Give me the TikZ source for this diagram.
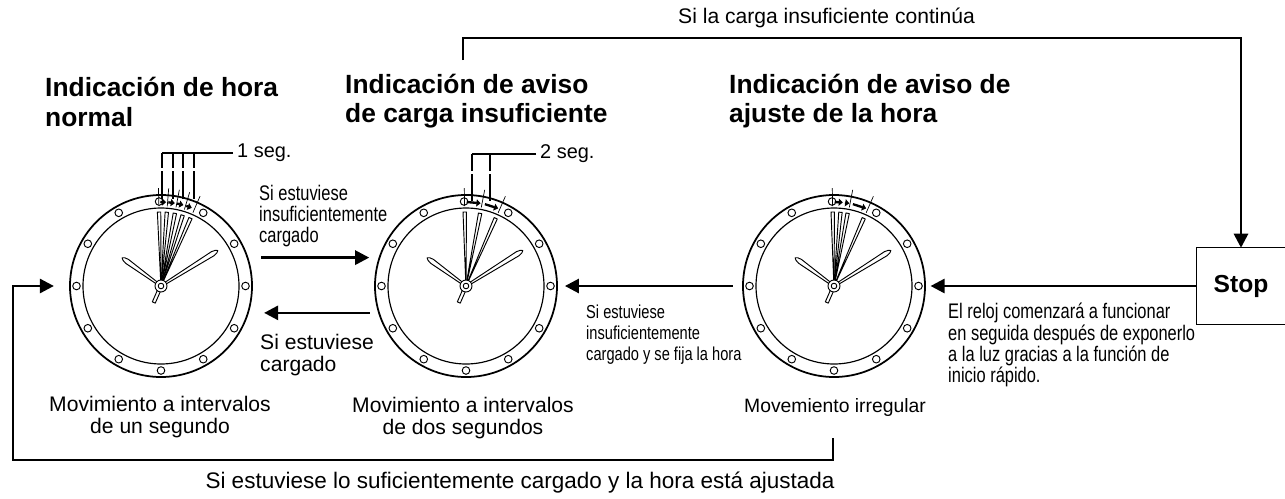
\documentclass[tikz,border=0pt]{standalone}
\usepackage{fontspec}
\setmainfont{Liberation Sans}
\newfontfamily\narrowfont[FakeStretch=0.78]{Liberation Sans}
\usetikzlibrary{arrows.meta}
\tikzset{
    clockring/.style={circle, draw, line width=1.5pt, minimum size=5.46cm, inner sep=0pt},
    innerring/.style={line width=1pt},
    ringdot/.style={line width=0.8pt, fill=white},
    handline/.style={line width=0.8pt, fill=white, line join=round},
    tickline/.style={line width=0.6pt},
    tickarrow/.style={line width=2pt, -{Triangle[length=3.5pt, width=6pt]}},
    bracket/.style={line width=1.2pt},
    flow/.style={line width=2.3pt, -{Triangle[length=12pt, width=12pt]}},
    heading/.style={font=\fontsize{22.5}{25}\selectfont\bfseries, align=left, anchor=west, inner sep=0pt},
    plainlabel/.style={font=\fontsize{18}{18.5}\selectfont, inner sep=0pt},
    seglabel/.style={font=\fontsize{17}{18}\selectfont, anchor=west, inner sep=0pt},
    narrowlabel/.style={font=\fontsize{18}{18}\narrowfont, align=left, anchor=west, inner sep=0pt}
}
\newcommand{\clockface}[4]{
    \begin{scope}[shift={(#1.center)}]
        \draw[innerring] (0,0) circle (78);
        \foreach \h in {-1.3,30,60,90,120,150,180,210,240,270,300,330}
            \draw[ringdot] (\h-90:84.5) circle (3.8);
        \draw[handline, rotate=54] (-1,-5) -- (-2.4,-42) -- (-1.5,-46) -- (0,-48) -- (1.5,-46) -- (2.4,-42) -- (1,-5) -- cycle;
        \draw[handline, rotate=-58] (-1,-5) -- (-2.4,-61) -- (-1.5,-65) -- (0,-67) -- (1.5,-65) -- (2.4,-61) -- (1,-5) -- cycle;
        \foreach \a in {#2}
            \draw[handline, rotate=-\a] (-0.2,-5) -- (-1.7,-74) -- (1.7,-74) -- (0.2,-5) -- cycle;
        \foreach \a in {#3}
            \draw[tickline] (\a-90:80) -- (\a-90:98);
        \foreach \s/\e in {#4}
            \draw[tickarrow] (\s-90:84) -- (\e-90:84);
        \draw[handline, rotate=-23.6] (-1.6,0) rectangle (1.6,18);
        \draw[handline] (0,0) circle (6);
        \draw[handline] (0,0) circle (2.8);
    \end{scope}
}

\begin{document}
\begin{tikzpicture}[x=0.03cm, y=-0.03cm]
        \useasboundingbox (0,0) rectangle (1285,498);

        \node[clockring] (normalclock) at (161,286) {};
        \node[clockring] (chargeclock) at (466,286) {};
        \node[clockring] (adjustclock) at (834,286) {};

        \clockface{normalclock}{-1.5,4.5,10.8,17,23.5}{-1.5,4.5,10.8,17,23.5}{-0.5/3.5,5/9.5,11/15.5,17.5/21.5}
        \clockface{chargeclock}{-1,11,23.7}{-1,11,23.7}{0.5/10,13/22.5}
        \clockface{adjustclock}{-1,5,10.6,23.7}{-1,11,23.7}{0.5/6,7.5/10.5,13/22.5}

        \node[inner sep=0pt, font=\fontsize{21}{24}\selectfont\bfseries, minimum width=88*0.03cm, minimum height=76*0.03cm] (stopbox) at (1241,286) {Stop};
        \draw[line width=0.9pt] (stopbox.north east) -- (stopbox.north west) -- (stopbox.south west) -- (stopbox.south east);

        \node[heading] (normaltitle) at (45,102) {Indicación de hora\\normal};
        \node[heading] (chargetitle) at (345,101) {Indicación de aviso\\de carga insuficiente};
        \node[heading] (adjusttitle) at (729,101) {Indicación de aviso de\\ajuste de la hora};

        \node[seglabel] (oneseg) at (237,153) {1 seg.};
        \node[seglabel] (twoseg) at (540,154) {2 seg.};

        \coordinate (onesegend) at (162,153);
        \coordinate (twosegend) at (472,154);
        \draw[bracket] (oneseg.west) ++(-4,0) -- (onesegend);
        \draw[bracket] (twoseg.west) ++(-4,0) -- (twosegend);
        \foreach \x in {162,173,183,194}
            \draw[bracket] (\x,153) -- (\x,168) (\x,171) -- (\x,199);
        \foreach \x in {472,490}
            \draw[bracket] (\x,154) -- (\x,171) (\x,174) -- (\x,201);

        \coordinate (topstart) at (463,60);
        \coordinate (loopstart) at (833,438);
        \coordinate (loopcorner) at (13,460);

        \draw[flow] (topstart) -- ++(0,-22) -| (stopbox.north);
        \draw[flow, shorten >=4] (stopbox.west) -- (adjustclock.east);
        \draw[flow, shorten <=8, shorten >=6] (adjustclock.west) -- (chargeclock.east);
        \draw[flow, shorten <=11, shorten >=8] (normalclock.18) -- (chargeclock.162);
        \draw[flow, shorten <=7, shorten >=13] (chargeclock.197) -- (normalclock.-17);
        \draw[flow, shorten >=13] (loopstart) |- (loopcorner) |- (normalclock.west);

        \node[plainlabel, anchor=west] (toplabel) at (678,18) {Si la carga insuficiente continúa};
        \node[narrowlabel] (chargeup) at (259,216) {Si estuviese\\insuficientemente\\cargado};
        \node[plainlabel, align=left, anchor=west] (chargedown) at (260,355) {Si estuviese\\cargado};
        \node[narrowlabel, font=\fontsize{16}{18}\narrowfont] (adjustdown) at (586,335) {Si estuviese\\insuficientemente\\cargado y se fija la hora};
        \node[narrowlabel] (stoptext) at (948,345) {El reloj comenzará a funcionar\\en seguida después de exponerlo\\a la luz gracias a la función de\\inicio rápido.};
        \node[plainlabel, align=center] (normalmove) at (160,417) {Movimiento a intervalos\\de un segundo};
        \node[plainlabel, align=center] (chargemove) at (463,418) {Movimiento a intervalos\\de dos segundos};
        \node[plainlabel, font=\fontsize{16.5}{18}\selectfont] (adjustmove) at (835,407) {Movemiento irregular};
        \node[plainlabel, font=\fontsize{19.2}{20}\selectfont] (bottomlabel) at (520,483) {Si estuviese lo suficientemente cargado y la hora está ajustada};
    \end{tikzpicture}
\end{document}
